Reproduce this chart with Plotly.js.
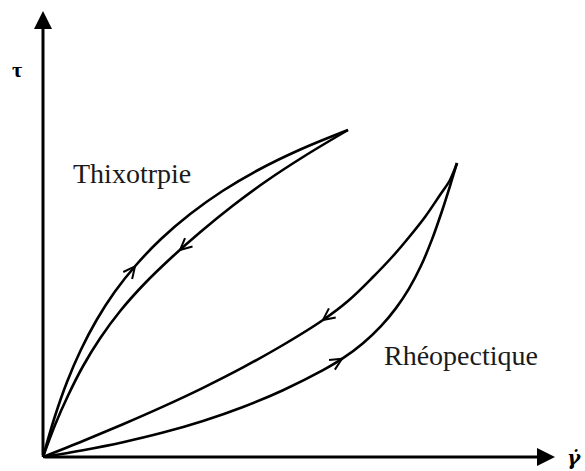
<!DOCTYPE html>
<html>
<head>
<meta charset="utf-8">
<script src="https://cdn.plot.ly/plotly-3.0.1.min.js"></script>
<style>html,body{margin:0;padding:0;background:#fff;}#chart{width:585px;height:471px;}</style>
</head>
<body>
<div id="chart"></div>
<script>
// Schematic shear stress (tau) vs shear rate (gamma dot) hysteresis loops (arbitrary units)
var thixoUpX = [0, 11.7, 24, 37.8, 53.6, 71.6, 93.1, 118, 147.2, 179.5, 215.2, 256.2, 305];
var thixoUpY = [0, 40, 75, 107, 137, 165, 192, 218, 243, 266, 287, 307, 327];
var thixoDownX = [305, 261.6, 223.4, 189.4, 157.4, 128, 101.2, 77.2, 57.3, 40.1, 25.3, 12, 0];
var thixoDownY = [327, 301, 276, 251, 225, 199, 173, 146, 119, 91, 62, 32, 0];
var rheoDownX = [414, 407, 397, 382, 367, 350, 330, 305, 280, 240, 200, 160, 120, 80, 40, 0];
var rheoDownY = [294, 277, 262, 240, 221, 201, 180, 156, 137, 112, 89.6, 69.2, 50.4, 32.8, 16, 0];
var rheoUpX = [0, 40, 80, 120, 160, 200, 240, 280, 300, 320, 338, 353, 366, 378, 389, 399, 407, 414];
var rheoUpY = [0, 6.8, 14.8, 24.4, 36, 50, 66.8, 86.8, 98.8, 113.8, 130.9, 148.9, 168.4, 191.2, 217.6, 246, 271, 294];

// arrow markers placed at these x positions along each branch
var arrowAt = {thixoUp: 92, thixoDown: 137, rheoDown: 280, rheoUp: 299};

var labels = {thixo: 'Thixotrpie', rheo: 'Rhéopectique', yAxis: 'τ', xAxis: 'γ̇'};

function pointAt(xs, ys, xv) {
  for (var i = 0; i < xs.length - 1; i++) {
    var a = xs[i], b = xs[i + 1];
    if ((xv - a) * (xv - b) <= 0 && a !== b) {
      var t = (xv - a) / (b - a);
      return {x: a + t * (b - a), y: ys[i] + t * (ys[i + 1] - ys[i]), dx: b - a, dy: ys[i + 1] - ys[i]};
    }
  }
  return null;
}
function openHead(xs, ys, xv) {
  var p = pointAt(xs, ys, xv);
  var L = Math.sqrt(p.dx * p.dx + p.dy * p.dy);
  var ux = p.dx / L, uy = p.dy / L;
  var len = 13, ang = 0.45;
  var hx = [], hy = [];
  [ang, -ang].forEach(function (s) {
    var c = Math.cos(s), sn = Math.sin(s);
    var bx = -(ux * c - uy * sn), by = -(ux * sn + uy * c);
    hx.push(p.x + bx * len, p.x, null);
    hy.push(p.y + by * len, p.y, null);
  });
  return {x: hx, y: hy};
}

var lineStyle = {color: '#000', width: 2.6, shape: 'spline', smoothing: 1};
function curve(x, y) {
  return {x: x, y: y, mode: 'lines', line: lineStyle, hoverinfo: 'skip', showlegend: false};
}
function head(h) {
  return {x: h.x, y: h.y, mode: 'lines', line: {color: '#000', width: 2}, hoverinfo: 'skip', showlegend: false};
}

var traces = [
  curve(thixoUpX, thixoUpY),
  curve(thixoDownX, thixoDownY),
  curve(rheoDownX, rheoDownY),
  curve(rheoUpX, rheoUpY),
  head(openHead(thixoUpX, thixoUpY, arrowAt.thixoUp)),
  head(openHead(thixoDownX, thixoDownY, arrowAt.thixoDown)),
  head(openHead(rheoDownX, rheoDownY, arrowAt.rheoDown)),
  head(openHead(rheoUpX, rheoUpY, arrowAt.rheoUp))
];

var serif = 'Liberation Serif, Times New Roman, serif';
var layout = {
  width: 585, height: 471,
  margin: {l: 0, r: 0, t: 0, b: 0},
  paper_bgcolor: '#fff', plot_bgcolor: '#fff',
  xaxis: {range: [-43, 542], visible: false, fixedrange: true},
  yaxis: {range: [-14, 457], visible: false, fixedrange: true},
  annotations: [
    {x: 0, y: 446, ax: 0, ay: 0, axref: 'x', ayref: 'y', xref: 'x', yref: 'y', showarrow: true,
     arrowhead: 2, arrowsize: 1.2, arrowwidth: 3, arrowcolor: '#000', text: ''},
    {x: 512, y: 0, ax: 0, ay: 0, axref: 'x', ayref: 'y', xref: 'x', yref: 'y', showarrow: true,
     arrowhead: 2, arrowsize: 1.2, arrowwidth: 3, arrowcolor: '#000', text: ''},
    {x: 28, y: 284, xref: 'x', yref: 'y', text: labels.thixo, showarrow: false, xanchor: 'left', yanchor: 'middle',
     font: {family: serif, size: 28, color: '#1a1a1a'}},
    {x: 339, y: 102, xref: 'x', yref: 'y', text: labels.rheo, showarrow: false, xanchor: 'left', yanchor: 'middle',
     font: {family: serif, size: 28, color: '#1a1a1a'}},
    {x: -26, y: 388, xref: 'x', yref: 'y', text: '<b>' + labels.yAxis + '</b>', showarrow: false,
     font: {family: serif, size: 22, color: '#000'}},
    {x: 531, y: -1, xref: 'x', yref: 'y', text: '<b><i>' + labels.xAxis + '</i></b>', showarrow: false,
     font: {family: 'DejaVu Serif, serif', size: 20, color: '#000'}}
  ]
};

Plotly.newPlot('chart', traces, layout, {displayModeBar: false, staticPlot: true});
</script>
</body>
</html>
